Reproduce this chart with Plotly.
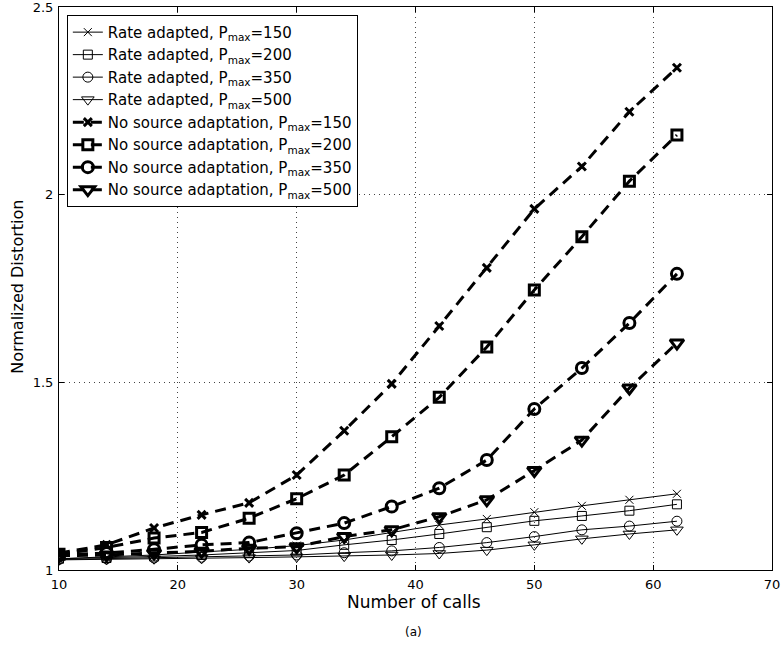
import plotly.graph_objects as go

calls = [10, 14, 18, 22, 26, 30, 34, 38, 42, 46, 50, 54, 58, 62]

rate_150 = [1.030, 1.034, 1.040, 1.048, 1.055, 1.065, 1.080, 1.100, 1.120, 1.136, 1.154, 1.171, 1.187, 1.203]
rate_200 = [1.030, 1.032, 1.036, 1.040, 1.045, 1.052, 1.067, 1.080, 1.096, 1.114, 1.131, 1.144, 1.158, 1.175]
rate_350 = [1.028, 1.030, 1.032, 1.034, 1.037, 1.040, 1.046, 1.051, 1.060, 1.073, 1.089, 1.107, 1.117, 1.130]
rate_500 = [1.027, 1.028, 1.030, 1.031, 1.033, 1.035, 1.037, 1.040, 1.044, 1.053, 1.067, 1.083, 1.096, 1.107]

nosrc_150 = [1.045, 1.067, 1.112, 1.147, 1.179, 1.253, 1.371, 1.496, 1.650, 1.805, 1.962, 2.075, 2.221, 2.338]
nosrc_200 = [1.042, 1.060, 1.085, 1.100, 1.138, 1.190, 1.253, 1.355, 1.460, 1.594, 1.746, 1.888, 2.036, 2.159]
nosrc_350 = [1.040, 1.045, 1.055, 1.067, 1.073, 1.098, 1.125, 1.169, 1.218, 1.293, 1.429, 1.538, 1.658, 1.789]
nosrc_500 = [1.038, 1.040, 1.045, 1.050, 1.058, 1.062, 1.089, 1.107, 1.142, 1.187, 1.265, 1.346, 1.485, 1.605]

x_ticks = [10, 20, 30, 40, 50, 60, 70]
y_ticks = [1, 1.5, 2, 2.5]
y_tick_text = ["1", "1.5", "2", "2.5"]

series = [
    ("Rate adapted, P<sub>max</sub>=150", rate_150, "x-thin-open", False),
    ("Rate adapted, P<sub>max</sub>=200", rate_200, "square-open", False),
    ("Rate adapted, P<sub>max</sub>=350", rate_350, "circle-open", False),
    ("Rate adapted, P<sub>max</sub>=500", rate_500, "triangle-down-open", False),
    ("No source adaptation, P<sub>max</sub>=150", nosrc_150, "x-thin-open", True),
    ("No source adaptation, P<sub>max</sub>=200", nosrc_200, "square-open", True),
    ("No source adaptation, P<sub>max</sub>=350", nosrc_350, "circle-open", True),
    ("No source adaptation, P<sub>max</sub>=500", nosrc_500, "triangle-down-open", True),
]

bold_sizes = {"x-thin-open": 8, "square-open": 10, "circle-open": 11, "triangle-down-open": 12}
thin_sizes = {"x-thin-open": 8, "square-open": 9, "circle-open": 10, "triangle-down-open": 11}

fig = go.Figure()
for name, vals, sym, bold in series:
    if bold:
        line = dict(color="black", width=3, dash="11px,7px")
        marker = dict(symbol=sym, size=bold_sizes[sym], color="black",
                      line=dict(color="black", width=3))
    else:
        line = dict(color="black", width=1)
        marker = dict(symbol=sym, size=thin_sizes[sym], color="black",
                      line=dict(color="black", width=1))
    fig.add_trace(go.Scatter(x=calls, y=vals, mode="lines+markers", name=name,
                             line=line, marker=marker))

axis_common = dict(
    showline=True, linecolor="black", linewidth=1, mirror="ticks",
    ticks="inside", ticklen=5, tickcolor="black",
    showgrid=True, gridcolor="#444", griddash="1px,4px", gridwidth=1,
    zeroline=False, tickfont=dict(size=13, color="black"), automargin=False,
    ticklabeloverflow="allow",
)

fig.update_layout(
    width=783, height=648,
    paper_bgcolor="white", plot_bgcolor="white",
    margin=dict(l=59, r=11, t=7, b=78),
    font=dict(family="DejaVu Sans, Liberation Sans, Arial, sans-serif", color="black"),
    xaxis=dict(range=[10, 70], tickvals=x_ticks, ticklabelstandoff=2, **axis_common),
    yaxis=dict(range=[1, 2.5], tickvals=y_ticks, ticktext=y_tick_text,
               ticklabelstandoff=2, **axis_common),
    legend=dict(x=0.011, y=0.986, xanchor="left", yanchor="top",
                bgcolor="white", bordercolor="black", borderwidth=1,
                font=dict(size=15), tracegroupgap=0, itemwidth=30),
    showlegend=True,
)

fig.add_annotation(text="Number of calls", xref="paper", yref="paper", x=0.498, y=-0.057,
                   showarrow=False, font=dict(size=17), yanchor="middle", xanchor="center")
fig.add_annotation(text="Normalized Distortion", xref="paper", yref="paper", x=-0.0575, y=0.503,
                   showarrow=False, font=dict(size=16), textangle=-90,
                   xanchor="center", yanchor="middle")
fig.add_annotation(text="(a)", xref="paper", yref="paper", x=0.497, y=-0.11,
                   showarrow=False, font=dict(size=12), yanchor="middle", xanchor="center")

fig.write_html("out.html", config={"displayModeBar": False},
               post_script="document.body.style.margin='0';")
